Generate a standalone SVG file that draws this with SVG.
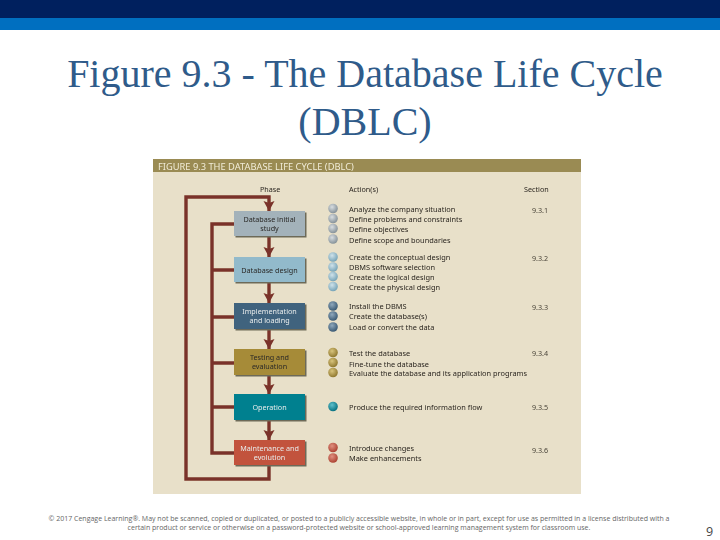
<svg xmlns="http://www.w3.org/2000/svg" width="720" height="540" viewBox="0 0 720 540">
<style>
.title{font-family:"Liberation Serif",serif;font-size:40px;fill:#2f5b8a;text-anchor:middle}
.foot{font-family:"Open Sans",sans-serif;font-size:7px;fill:#666;text-anchor:middle}
.hd{font-family:"Noto Sans",sans-serif;font-size:9.3px;fill:#f1ecd8}
.col{font-family:"Noto Sans",sans-serif;font-size:7.2px;fill:#2b2620}
.act{font-family:"Noto Sans",sans-serif;font-size:7.4px;fill:#2b2620}
.sec{font-family:"Noto Sans",sans-serif;font-size:7.2px;fill:#4a453a;text-anchor:middle}
.lb{font-family:"Noto Sans",sans-serif;font-size:7.2px;text-anchor:middle}
.dk{fill:#2b2a28}.lt{fill:#e8ecec}
.sh{fill:#6d6a58}
.ln{fill:none;stroke:#7a3329;stroke-width:3.400}
.blur{filter:url(#soft)}
</style>
<defs>
<marker id="ah" markerUnits="userSpaceOnUse" markerWidth="11" markerHeight="12" refX="10" refY="6" orient="auto"><path d="M0 0.500L10 6L0 11.500L2 6Z" fill="#7a3329"/></marker>
<filter id="soft" x="-5%" y="-5%" width="110%" height="110%"><feGaussianBlur stdDeviation="0.35"/></filter>
<radialGradient id="b1" cx="0.4" cy="0.35" r="0.7"><stop offset="0" stop-color="#d8dde0"/><stop offset="1" stop-color="#7f8c94"/></radialGradient>
<radialGradient id="b2" cx="0.4" cy="0.35" r="0.7"><stop offset="0" stop-color="#cfe2ea"/><stop offset="1" stop-color="#6f9fb4"/></radialGradient>
<radialGradient id="b3" cx="0.4" cy="0.35" r="0.7"><stop offset="0" stop-color="#8fa8bc"/><stop offset="1" stop-color="#33536e"/></radialGradient>
<radialGradient id="b4" cx="0.4" cy="0.35" r="0.7"><stop offset="0" stop-color="#d8c47c"/><stop offset="1" stop-color="#8a7228"/></radialGradient>
<radialGradient id="b5" cx="0.4" cy="0.35" r="0.7"><stop offset="0" stop-color="#5fc0cc"/><stop offset="1" stop-color="#006c7c"/></radialGradient>
<radialGradient id="b6" cx="0.4" cy="0.35" r="0.7"><stop offset="0" stop-color="#e09080"/><stop offset="1" stop-color="#a83c2c"/></radialGradient>
</defs>
<rect width="720" height="540" fill="#fff"/>
<rect width="720" height="18" fill="#00205e"/>
<rect y="18" width="720" height="12" fill="#006fc0"/>
<text class="title" x="365" y="87">Figure 9.3 - The Database Life Cycle</text>
<text class="title" x="365" y="135">(DBLC)</text>
<g class="blur">
<rect x="153" y="159" width="428" height="335" fill="#e8e0c9"/>
<rect x="153" y="159" width="428" height="13" fill="#9a8b52"/>
<text class="hd" x="158" y="169.500">FIGURE 9.3  THE DATABASE LIFE CYCLE (DBLC)</text>
<text class="col" x="260" y="192">Phase</text>
<text class="col" x="349" y="192">Action(s)</text>
<text class="col" x="524" y="192">Section</text>
<g id="connectors">
<path class="ln" d="M269 465V479H186V197H269V211" marker-end="url(#ah)"/>
<path class="ln" d="M234 224H212V453H234M212 270H234M212 317H234M212 363H234M212 407H234"/>
<path class="ln" d="M269 236V257" marker-end="url(#ah)"/>
<path class="ln" d="M269 282V303" marker-end="url(#ah)"/>
<path class="ln" d="M269 329V349" marker-end="url(#ah)"/>
<path class="ln" d="M269 375V394" marker-end="url(#ah)"/>
<path class="ln" d="M269 420V440" marker-end="url(#ah)"/>
</g>
<g id="n1"><rect class="sh" x="235.500" y="212.500" width="71" height="25"/><rect x="234" y="211" width="71" height="25" fill="#a3b2ba"/><text class="lb dk" x="269.500" y="222">Database initial</text><text class="lb dk" x="269.500" y="231">study</text></g>
<g id="n2"><rect class="sh" x="235.500" y="258.500" width="71" height="25"/><rect x="234" y="257" width="71" height="25" fill="#92bacb"/><text class="lb dk" x="269.500" y="272.500">Database design</text></g>
<g id="n3"><rect class="sh" x="235.500" y="304.500" width="71" height="26"/><rect x="234" y="303" width="71" height="26" fill="#41637e"/><text class="lb lt" x="269.500" y="314">Implementation</text><text class="lb lt" x="269.500" y="323">and loading</text></g>
<g id="n4"><rect class="sh" x="235.500" y="350.500" width="71" height="26"/><rect x="234" y="349" width="71" height="26" fill="#a68b38"/><text class="lb dk" x="269.500" y="360">Testing and</text><text class="lb dk" x="269.500" y="369">evaluation</text></g>
<g id="n5"><rect class="sh" x="235.500" y="395.500" width="71" height="26"/><rect x="234" y="394" width="71" height="26" fill="#00808f"/><text class="lb lt" x="269.500" y="410">Operation</text></g>
<g id="n6"><rect class="sh" x="235.500" y="441.500" width="71" height="25"/><rect x="234" y="440" width="71" height="25" fill="#c2533c"/><text class="lb lt" x="269.500" y="451">Maintenance and</text><text class="lb lt" x="269.500" y="460">evolution</text></g>
<g id="bullets">
<g fill="url(#b1)"><circle cx="333" cy="208.500" r="4.800"/><circle cx="333" cy="218.500" r="4.800"/><circle cx="333" cy="228.500" r="4.800"/><circle cx="333" cy="239" r="4.800"/></g>
<g fill="url(#b2)"><circle cx="333" cy="257" r="4.800"/><circle cx="333" cy="267" r="4.800"/><circle cx="333" cy="276.500" r="4.800"/><circle cx="333" cy="286.500" r="4.800"/></g>
<g fill="url(#b3)"><circle cx="333" cy="306" r="4.800"/><circle cx="333" cy="316" r="4.800"/><circle cx="333" cy="327" r="4.800"/></g>
<g fill="url(#b4)"><circle cx="333" cy="352.500" r="4.800"/><circle cx="333" cy="362.500" r="4.800"/><circle cx="333" cy="372.500" r="4.800"/></g>
<circle cx="333" cy="406.500" r="4.800" fill="url(#b5)"/>
<g fill="url(#b6)"><circle cx="333" cy="447.500" r="4.800"/><circle cx="333" cy="458" r="4.800"/></g>
</g>
<g id="actions">
<text class="act" x="349" y="212">Analyze the company situation</text>
<text class="act" x="349" y="222">Define problems and constraints</text>
<text class="act" x="349" y="232">Define objectives</text>
<text class="act" x="349" y="242.500">Define scope and boundaries</text>
<text class="act" x="349" y="260">Create the conceptual design</text>
<text class="act" x="349" y="270">DBMS software selection</text>
<text class="act" x="349" y="280">Create the logical design</text>
<text class="act" x="349" y="290">Create the physical design</text>
<text class="act" x="349" y="309">Install the DBMS</text>
<text class="act" x="349" y="319">Create the database(s)</text>
<text class="act" x="349" y="329.500">Load or convert the data</text>
<text class="act" x="349" y="355.500">Test the database</text>
<text class="act" x="349" y="366.500">Fine-tune the database</text>
<text class="act" x="349" y="376">Evaluate the database and its application programs</text>
<text class="act" x="349" y="409.500">Produce the required information flow</text>
<text class="act" x="349" y="450.500">Introduce changes</text>
<text class="act" x="349" y="461">Make enhancements</text>
</g>
<g id="sections">
<text class="sec" x="540" y="213">9.3.1</text>
<text class="sec" x="540" y="261">9.3.2</text>
<text class="sec" x="540" y="310">9.3.3</text>
<text class="sec" x="540" y="356">9.3.4</text>
<text class="sec" x="540" y="410">9.3.5</text>
<text class="sec" x="540" y="453">9.3.6</text>
</g>
</g>
<text class="foot" x="359" y="521">© 2017 Cengage Learning®. May not be scanned, copied or duplicated, or posted to a publicly accessible website, in whole or in part, except for use as permitted in a license distributed with a</text>
<text class="foot" x="359" y="530">certain product or service or otherwise on a password-protected website or school-approved learning management system for classroom use.</text>
<text x="706" y="536" font-family="Open Sans, sans-serif" font-size="12.500" fill="#444">9</text>
</svg>
